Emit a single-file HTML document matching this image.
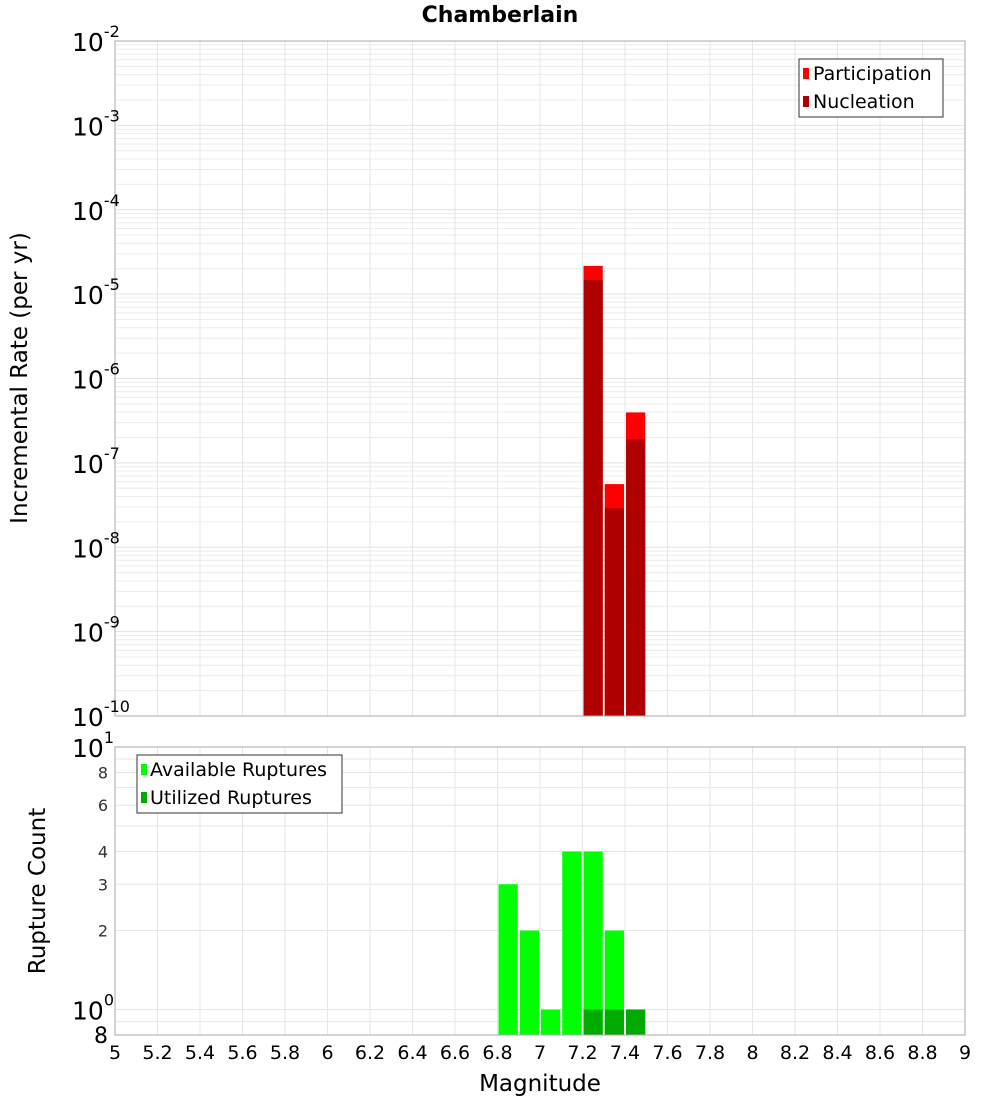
<!DOCTYPE html>
<html><head><meta charset="utf-8"><style>
body{margin:0;background:#fff}
svg{display:block;font-family:"DejaVu Sans","Liberation Sans",sans-serif}
</style></head><body>
<svg id="chart" width="1000" height="1100" xmlns="http://www.w3.org/2000/svg">
<text x="500" y="22" text-anchor="middle" font-size="22" font-weight="bold">Chamberlain</text>
<g id="topg"></g><g id="botg"></g>
</svg>
<script>
const magCenters=[7.25,7.35,7.45];
const participation=[2.16e-5,5.6e-8,3.96e-7];
const nucleation=[1.47e-5,2.9e-8,1.9e-7];
const countCenters=[6.85,6.95,7.05,7.15,7.25,7.35,7.45];
const available=[3,2,1,4,4,2,1];
const utilCenters=[7.25,7.35,7.45];
const utilized=[1,1,1];
const xTicks=[5,5.2,5.4,5.6,5.8,6,6.2,6.4,6.6,6.8,7,7.2,7.4,7.6,7.8,8,8.2,8.4,8.6,8.8,9];
const topExps=[-2,-3,-4,-5,-6,-7,-8,-9,-10];
const botTicks=[8,6,4,3,2];

const NS="http://www.w3.org/2000/svg";
const X0=115,X1=965;
const xs=m=>X0+(m-5)/4*(X1-X0);
const T0=41,T1=716;
const yTop=v=>T0+(-2-Math.log10(v))/8*(T1-T0);
const B0=747,B1=1035;
const yBot=v=>B0+(1-Math.log10(v))/(1-Math.log10(0.8))*(B1-B0);
function el(p,tag,a,txt){const e=document.createElementNS(NS,tag);for(const k in a)e.setAttribute(k,a[k]);if(txt!=null)e.textContent=txt;p.appendChild(e);return e;}
const topG=document.getElementById('topg'),botG=document.getElementById('botg');

for(let e=-10;e<-2;e++)for(let k=2;k<=9;k++){const y=yTop(k*Math.pow(10,e));const g=el(topG,'line',{x1:X0,x2:X1,y1:y,y2:y,stroke:'#ececec'});

}
topExps.forEach(e=>{const y=yTop(Math.pow(10,e));const g=el(topG,'line',{x1:X0,x2:X1,y1:y,y2:y,stroke:'#e2e2e2'});

});
xTicks.forEach(m=>{const x=xs(m);const g=el(topG,'line',{x1:x,x2:x,y1:T0,y2:T1,stroke:'#e6e6e6'});


 const g2=el(botG,'line',{x1:x,x2:x,y1:B0,y2:B1,stroke:'#e6e6e6'});

});
const bw=0.1/4*(X1-X0);
magCenters.forEach((m,i)=>{const x=xs(m)-bw/2+1;
 const r=el(topG,'rect',{x:x,y:yTop(participation[i]),width:bw-2,height:T1-yTop(participation[i]),fill:'#ff0000'});
 
 
 const n=el(topG,'rect',{x:x,y:yTop(nucleation[i]),width:bw-2,height:T1-yTop(nucleation[i]),fill:'#b00000'});
 
 });
let f=el(topG,'rect',{x:X0,y:T0,width:X1-X0,height:T1-T0,fill:'none',stroke:'#aaa'});


topExps.forEach(e=>{const y=yTop(Math.pow(10,e));const t=el(topG,'text',{x:72,y:y+10,'font-size':25},'10');
 
 
 el(t,'tspan',{dy:-14,'font-size':16},String(e));});
let yt=el(topG,'text',{x:27,y:378,'font-size':23,'text-anchor':'middle',transform:'rotate(-90 27 378)'},'Incremental Rate (per yr)');


let lg=el(topG,'g',{});


el(lg,'rect',{x:799,y:59,width:144,height:58,fill:'#fff',stroke:'#333'});
el(lg,'rect',{x:803,y:68,width:6,height:11,fill:'#ff0000'});
el(lg,'text',{x:813,y:80,'font-size':19},'Participation');
el(lg,'rect',{x:803,y:96,width:6,height:11,fill:'#b00000'});
el(lg,'text',{x:813,y:108,'font-size':19},'Nucleation');

[0.8,0.9,1,2,3,4,5,6,7,8,9,10].forEach(v=>{const y=yBot(v);const g=el(botG,'line',{x1:X0,x2:X1,y1:y,y2:y,stroke:'#e6e6e6'});

});
countCenters.forEach((m,i)=>{const x=xs(m)-bw/2+1;const r=el(botG,'rect',{x:x,y:yBot(available[i]),width:bw-2,height:B1-yBot(available[i]),fill:'#00ff00'});
 
 });
utilCenters.forEach((m,i)=>{const x=xs(m)-bw/2+1;const r=el(botG,'rect',{x:x,y:yBot(utilized[i]),width:bw-2,height:B1-yBot(utilized[i]),fill:'#00aa00'});
 
 });
f=el(botG,'rect',{x:X0,y:B0,width:X1-X0,height:B1-B0,fill:'none',stroke:'#aaa'});


[[10,'1'],[1,'0']].forEach(([v,e])=>{const y=yBot(v);const t=el(botG,'text',{x:72,y:y+10,'font-size':25},'10');
 
 
 el(t,'tspan',{dy:-14,'font-size':16},e);});
botTicks.forEach(v=>{const t=el(botG,'text',{x:108,y:yBot(v)+6,'font-size':16,'text-anchor':'end',fill:'#333'},String(v));
 
 });
let t8=el(botG,'text',{x:108,y:1043,'font-size':22,'text-anchor':'end'},'8');


xTicks.forEach(m=>{const t=el(botG,'text',{x:xs(m),y:1059,'font-size':19,'text-anchor':'middle'},String(m));
 
 });
let xt=el(botG,'text',{x:540,y:1091,'font-size':23,'text-anchor':'middle'},'Magnitude');


let yb=el(botG,'text',{x:45,y:891,'font-size':23,'text-anchor':'middle',transform:'rotate(-90 45 891)'},'Rupture Count');


let lg2=el(botG,'g',{});


el(lg2,'rect',{x:137,y:755,width:205,height:58,fill:'#fff',stroke:'#333'});
el(lg2,'rect',{x:141,y:764,width:6,height:11,fill:'#00ff00'});
el(lg2,'text',{x:150,y:776,'font-size':19},'Available Ruptures');
el(lg2,'rect',{x:141,y:792,width:6,height:11,fill:'#00aa00'});
el(lg2,'text',{x:150,y:804,'font-size':19},'Utilized Ruptures');
</script>
</body></html>
